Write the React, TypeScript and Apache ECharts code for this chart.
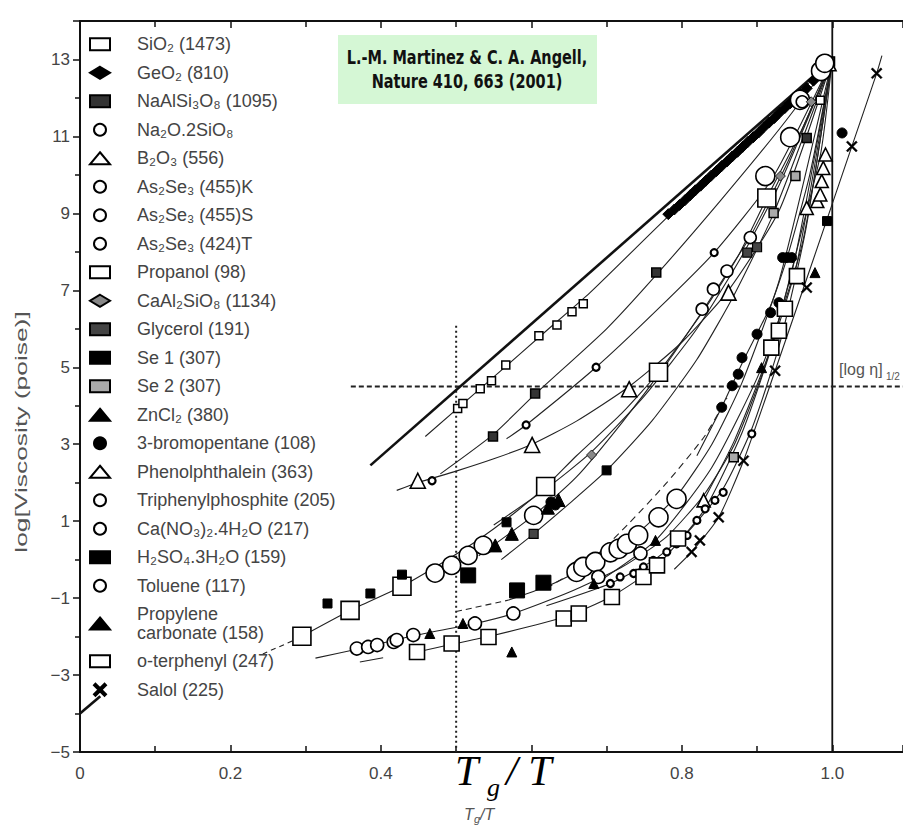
import React, { useEffect, useRef } from 'react';
import * as echarts from 'echarts';

const W = 903;
const H = 830;

// ---- legend names ----
const legendNames = [
  'SiO₂ (1473)', 'GeO₂ (810)', 'NaAlSi₃O₈ (1095)', 'Na₂O.2SiO₈', 'B₂O₃ (556)',
  'As₂Se₃ (455)K', 'As₂Se₃ (455)S', 'As₂Se₃ (424)T', 'Propanol (98)', 'CaAl₂SiO₈ (1134)',
  'Glycerol (191)', 'Se 1 (307)', 'Se 2 (307)', 'ZnCl₂ (380)', '3-bromopentane (108)',
  'Phenolphthalein (363)', 'Triphenylphosphite (205)', 'Ca(NO₃)₂.4H₂O (217)', 'H₂SO₄.3H₂O (159)',
  'Toluene (117)', 'Propylene\ncarbonate (158)', 'o-terphenyl (247)', 'Salol (225)',
];

// ---- measured points [Tg/T, log viscosity] ----
const siO2 = [[0.502,3.93],[0.509,4.06],[0.532,4.44],[0.547,4.65],[0.566,5.06],[0.610,5.82],[0.634,6.10],[0.654,6.44],[0.669,6.65],[0.984,11.94],[0.997,12.95]];
const geO2 = [[0.782,8.98],[0.79,9.1],[0.797,9.22],[0.804,9.34],[0.811,9.47],[0.818,9.6],[0.825,9.72],[0.832,9.85],[0.839,9.98],[0.846,10.1],[0.853,10.23],[0.86,10.35],[0.867,10.48],[0.874,10.6],[0.881,10.73],[0.888,10.86],[0.895,10.98],[0.902,11.1],[0.909,11.24],[0.916,11.36],[0.923,11.48],[0.93,11.62],[0.937,11.74],[0.944,11.86],[0.951,11.98],[0.958,12.1],[0.966,12.25],[0.975,12.45],[0.988,12.75]];
const naAlSi3O8 = [[0.549,3.20],[0.605,4.32],[0.766,7.46],[0.966,10.96],[0.997,12.95]];
const na2O2SiO2 = [[0.468,2.05],[0.593,3.50],[0.686,5.0],[0.843,7.98]];
const b2O3 = [[0.449,2.05],[0.601,2.98],[0.730,4.43],[0.862,6.94],[0.995,12.9]];
const as2Se3K = [[0.911,9.97],[0.944,10.98],[0.957,11.95],[0.985,12.7]];
const as2Se3S = [[0.827,6.51],[0.842,7.03],[0.860,7.50],[0.891,8.37],[0.96,11.9]];
const as2Se3T = [[0.472,-0.35],[0.494,-0.15],[0.516,0.11],[0.536,0.37],[0.603,1.15],[0.99,12.9]];
const propanol = [[0.295,-1.99],[0.359,-1.32],[0.428,-0.69],[0.619,1.9],[0.769,4.87],[0.913,9.40]];
const caAl2SiO8 = [[0.680,2.72],[0.931,9.97],[0.972,11.9]];
const glycerol = [[0.603,0.67],[0.887,7.98],[0.900,8.12]];
const se1 = [[0.329,-1.14],[0.386,-0.88],[0.428,-0.39],[0.567,0.97],[0.700,2.32],[0.993,8.80]];
const se2 = [[0.922,9.01],[0.951,9.97],[0.869,2.66]];
const znCl2 = [[0.552,0.37],[0.574,0.67],[0.622,1.35],[0.636,1.55]];
const bromopentane = [[0.853,3.96],[0.867,4.52],[0.875,4.82],[0.880,5.25],[0.900,5.86],[0.918,6.42],[0.929,6.68],[0.934,7.85],[0.940,7.85],[0.946,7.85],[1.013,11.09],[0.626,1.5],[0.632,1.42]];
const phenolphthalein = [[0.829,1.54],[0.966,9.14],[0.980,9.32],[0.984,9.49],[0.986,9.84],[0.988,10.18],[0.991,10.53]];
const triphenylphosphite = [[0.705,-0.62],[0.718,-0.45],[0.736,-0.36],[0.749,-0.19],[0.762,-0.02],[0.780,0.20],[0.793,0.41],[0.807,0.63],[0.820,1.02],[0.831,1.32],[0.844,1.54],[0.855,1.75],[0.893,3.27]];
const caNitrate = [[0.660,-0.32],[0.669,-0.19],[0.685,-0.06],[0.705,0.19],[0.716,0.28],[0.727,0.41],[0.742,0.63],[0.769,1.10],[0.793,1.58]];
const h2so4 = [[0.516,-0.41],[0.581,-0.80],[0.616,-0.60]];
const toluene = [[0.368,-2.31],[0.383,-2.27],[0.395,-2.22],[0.417,-2.14],[0.421,-2.09],[0.443,-1.96],[0.525,-1.66],[0.576,-1.40],[0.689,-0.45],[0.745,0.16]];
const propyleneCarb = [[0.465,-1.92],[0.509,-1.66],[0.574,-2.40],[0.683,-0.62],[0.765,0.50],[0.906,4.99],[0.977,7.46]];
const oTerphenyl = [[0.448,-2.40],[0.494,-2.18],[0.543,-2.01],[0.643,-1.53],[0.663,-1.40],[0.707,-0.97],[0.749,-0.45],[0.767,-0.15],[0.795,0.55],[0.919,5.51],[0.929,5.95],[0.937,6.52],[0.953,7.37]];
const salol = [[0.813,0.20],[0.824,0.50],[0.849,1.10],[0.882,2.57],[0.924,4.91],[0.966,7.07],[1.026,10.74],[1.059,12.64]];

// ---- fitted curves ----
const strongA = [[0, -4], [0.027, -3.55]];
const strongB = [[0.386, 2.45], [1.0, 13]];
const curveSiO2 = [[0.459,3.2],[0.55,4.75],[0.62,5.95],[0.678,6.94],[0.785,8.98],[0.9,11.05],[1.0,13]];
const curveNaAlSi = [[0.479,2.23],[0.549,3.25],[0.605,4.3],[0.70,6.0],[0.766,7.4],[0.85,9.3],[0.93,11.2],[1.0,13]];
const curveNa2O = [[0.567,3.14],[0.593,3.5],[0.686,5.0],[0.765,6.45],[0.843,7.98],[0.92,9.9],[1.0,13]];
const curveB2O3 = [[0.421,1.8],[0.449,2.0],[0.50,2.3],[0.55,2.62],[0.601,3.0],[0.66,3.6],[0.73,4.5],[0.80,5.65],[0.862,7.0],[0.93,9.1],[1.0,13]];
const curvePropDash = [[0.243,-2.45],[0.29,-2.05]];
const curveProp = [[0.295,-1.99],[0.359,-1.32],[0.428,-0.69],[0.48,-0.1],[0.532,0.55],[0.58,1.25],[0.619,1.9],[0.66,2.7],[0.72,3.8],[0.769,4.87],[0.83,6.5],[0.875,7.9],[0.913,9.4],[0.96,11.2],[1.0,13]];
const curveAsT = [[0.53,0.1],[0.603,1.15],[0.66,2.15],[0.72,3.55],[0.78,5.1],[0.827,6.45],[0.86,7.45],[0.891,8.4],[0.94,10.3],[1.0,13]];
const curveCaAl = [[0.55,0.9],[0.62,1.85],[0.68,2.8],[0.75,4.25],[0.82,6.0],[0.88,7.9],[0.931,9.8],[1.0,13]];
const curveSe = [[0.56,0.0],[0.603,0.67],[0.65,1.45],[0.70,2.32],[0.76,3.6],[0.82,5.2],[0.87,6.9],[0.922,9.0],[1.0,13]];
const curveCaDash = [[0.50,-1.35],[0.57,-1.05]];
const curveCa = [[0.57,-1.05],[0.62,-0.7],[0.66,-0.32],[0.705,0.19],[0.742,0.7],[0.793,1.65],[0.84,3.0],[0.88,4.6],[0.93,7.3],[1.0,13]];
const curveTol = [[0.313,-2.56],[0.368,-2.33],[0.443,-1.98],[0.525,-1.66],[0.576,-1.40],[0.65,-0.85],[0.72,-0.2],[0.78,0.6],[0.83,1.7],[0.87,3.0],[0.91,5.0],[0.95,7.8],[1.0,13]];
const curveTpp = [[0.62,-1.2],[0.705,-0.62],[0.762,-0.02],[0.807,0.7],[0.855,1.85],[0.893,3.4],[0.93,5.6],[0.965,8.6],[1.0,13]];
const curveOtpShort = [[0.372,-2.66],[0.403,-2.55]];
const curveOtp = [[0.448,-2.4],[0.494,-2.2],[0.543,-2.0],[0.643,-1.5],[0.707,-0.95],[0.767,-0.15],[0.83,1.3],[0.88,3.3],[0.919,5.5],[0.953,7.7],[1.0,13]];
const curveSalol = [[0.79,-0.25],[0.813,0.20],[0.849,1.10],[0.882,2.57],[0.924,4.91],[0.966,7.3],[1.026,10.74],[1.059,12.64],[1.066,13.1]];
const curveBromo = [[0.82,2.7],[0.853,3.96],[0.88,5.1],[0.918,6.6],[0.94,7.85],[0.97,10.0],[1.0,13]];
const curvePC = [[0.68,-0.7],[0.765,0.5],[0.84,2.4],[0.906,4.99],[0.96,8.2],[1.0,13]];
const curvePhen = [[0.829,1.54],[0.87,3.1],[0.92,5.6],[0.96,8.6],[0.985,10.6],[1.0,13]];
const curveDashed = [[0.62,-0.75],[0.68,0.0],[0.73,0.95],[0.78,2.0],[0.83,3.2],[0.86,4.2]];

// ---- reference lines ----
const tgLine = [[1.0, -5], [1.0, 14]];
const halfVertical = [[0.5, 6.08], [0.5, -5]];
const halfHorizontal = [[0.36, 4.5], [1.094, 4.5]];

const CROSS = 'path://M0,1.2L1.2,0L5,3.8L8.8,0L10,1.2L6.2,5L10,8.8L8.8,10L5,6.2L1.2,10L0,8.8L3.8,5Z';

function sc(name: string, data: number[][], symbol: string, size: number, fill: string, bw = 1.5) {
  return {
    type: 'scatter', name, data, symbol, symbolSize: size, z: 5,
    itemStyle: { color: fill, borderColor: '#000', borderWidth: bw, opacity: 1 },
  };
}
function ln(data: number[][], opts: any = {}) {
  return {
    type: 'line', data, symbol: 'none', showSymbol: false, silent: true, z: 2,
    smooth: opts.smooth === undefined ? 0.2 : opts.smooth,
    lineStyle: { color: opts.color || '#222', width: opts.width || 1.1, type: opts.type || 'solid' },
  };
}

export default function App() {
  const ref = useRef<HTMLDivElement>(null);
  useEffect(() => {
    const chart = echarts.init(ref.current!, null, { renderer: 'svg' });
    const axisCommon = {
      type: 'value', min: 0, max: 1.094, interval: 0.2,
      splitLine: { show: false },
      axisLine: { show: true, onZero: false, lineStyle: { color: '#111', width: 2 } },
      axisTick: { show: true, inside: true, length: 7, lineStyle: { color: '#111', width: 1.5 } },
      minorTick: { show: true, splitNumber: 2, length: 6, lineStyle: { color: '#111', width: 1.5 } },
    };
    const option: any = {
      animation: false,
      backgroundColor: '#fff',
      grid: { left: 80, top: 21, right: 0, bottom: 78 },
      xAxis: [
        {
          ...axisCommon, position: 'bottom',
          axisLabel: {
            color: '#444', fontSize: 17, fontFamily: 'Liberation Sans', margin: 13, showMaxLabel: false,
            formatter: (v: number) => {
              const r = Math.round(v * 10) / 10;
              if (r === 0) return '0';
              if (r === 0.6) return '';
              if (r > 1.0) return '';
              return r.toFixed(1);
            },
          },
        },
        { ...axisCommon, position: 'top', axisLabel: { show: false } },
      ],
      yAxis: {
        type: 'value', min: -5, max: 14, interval: 2,
        splitLine: { show: false },
        axisLine: { show: true, onZero: false, lineStyle: { color: '#111', width: 2 } },
        axisTick: { show: true, inside: false, length: 7, lineStyle: { color: '#111', width: 1.5 } },
        minorTick: { show: true, splitNumber: 2, length: 5, lineStyle: { color: '#111', width: 1.5 } },
        axisLabel: {
          color: '#444', fontSize: 17, fontFamily: 'Liberation Sans', margin: 10, showMaxLabel: false,
          formatter: (v: number) => (v > 13 ? '' : String(v).replace('-', '\u2212')),
        },
      },
      legend: {
        data: legendNames, orient: 'vertical', left: 84, top: 30,
        itemWidth: 20, itemHeight: 12, itemGap: 10, selectedMode: false,
        textStyle: { fontSize: 18, lineHeight: 18.5, color: '#444', fontFamily: 'Liberation Sans', padding: [0, 0, 0, 22] },
      },
      series: [
        // reference lines
        ln(tgLine, { smooth: false, color: '#111', width: 1.8 }),
        ln(halfVertical, { smooth: false, color: '#222', width: 2, type: [2, 3] }),
        ln(halfHorizontal, { smooth: false, color: '#222', width: 2, type: [5, 3] }),
        ln(strongA, { smooth: false, color: '#111', width: 2.6 }),
        ln(strongB, { smooth: false, color: '#111', width: 2.6 }),
        // curves
        ln(curveSiO2), ln(curveNaAlSi), ln(curveNa2O), ln(curveB2O3),
        ln(curvePropDash, { type: [5, 4] }), ln(curveProp), ln(curveAsT), ln(curveCaAl), ln(curveSe),
        ln(curveCaDash, { type: [6, 4] }), ln(curveCa), ln(curveTol), ln(curveTpp),
        ln(curveOtpShort), ln(curveOtp), ln(curveSalol), ln(curveBromo), ln(curvePC), ln(curvePhen),
        ln(curveDashed, { type: [7, 5] }),
        // points
        sc(legendNames[0], siO2, 'rect', 8, '#fff', 1.5),
        sc(legendNames[1], geO2, 'diamond', 11, '#000', 1),
        sc(legendNames[2], naAlSi3O8, 'rect', 9, '#333', 1.5),
        sc(legendNames[3], na2O2SiO2, 'circle', 7, '#fff', 2.2),
        sc(legendNames[4], b2O3, 'triangle', 15, '#fff', 1.6),
        sc(legendNames[5], as2Se3K, 'circle', 19, '#fff', 1.6),
        sc(legendNames[6], as2Se3S, 'circle', 12, '#fff', 1.6),
        sc(legendNames[7], as2Se3T, 'circle', 18, '#fff', 1.6),
        sc(legendNames[8], propanol, 'rect', 18, '#fff', 1.6),
        sc(legendNames[9], caAl2SiO8, 'diamond', 10, '#888', 0.8),
        sc(legendNames[10], glycerol, 'rect', 9, '#444', 1.2),
        sc(legendNames[11], se1, 'rect', 9, '#000', 1),
        sc(legendNames[12], se2, 'rect', 9, '#aaa', 1.5),
        sc(legendNames[13], znCl2, 'triangle', 13, '#000', 1),
        sc(legendNames[14], bromopentane, 'circle', 10, '#000', 1),
        sc(legendNames[15], phenolphthalein, 'triangle', 13, '#fff', 1.6),
        sc(legendNames[16], triphenylphosphite, 'circle', 7, '#fff', 2.2),
        sc(legendNames[17], caNitrate, 'circle', 19, '#fff', 1.6),
        sc(legendNames[18], h2so4, 'rect', 15, '#000', 1),
        sc(legendNames[19], toluene, 'circle', 13, '#fff', 1.6),
        sc(legendNames[20], propyleneCarb, 'triangle', 10, '#000', 1),
        sc(legendNames[21], oTerphenyl, 'rect', 15, '#fff', 1.6),
        sc(legendNames[22], salol, CROSS, 11, '#000', 0.5),
      ],
      graphic: [
        { type: 'rect', x: 338, y: 35, shape: { width: 259, height: 69 }, style: { fill: '#d5f7d5' }, z: 10 },
        {
          type: 'text', x: 467, y: 46, scaleY: 1.3, z: 11,
          style: { text: 'L.-M. Martinez & C. A. Angell,\nNature 410, 663 (2001)', font: 'bold 14.5px "DejaVu Sans"', fill: '#111', align: 'center', verticalAlign: 'top', lineHeight: 18 },
        },
        {
          type: 'text', x: 22, y: 432, rotation: Math.PI / 2, scaleX: 1.65, z: 11,
          style: { text: 'log[Viscosity (poise)]', font: '16px "Liberation Sans"', fill: '#555', align: 'center', verticalAlign: 'middle' },
        },
        { type: 'text', x: 839, y: 369, z: 11, style: { text: '[log η]', font: '16px "Liberation Sans"', fill: '#555', align: 'left', verticalAlign: 'middle' } },
        { type: 'text', x: 886, y: 376, z: 11, style: { text: '1/2', font: '10px "Liberation Sans"', fill: '#555', align: 'left', verticalAlign: 'middle' } },
        { type: 'text', x: 455, y: 771, z: 11, style: { text: 'T', font: 'italic 42px "Liberation Serif"', fill: '#000', align: 'left', verticalAlign: 'middle' } },
        { type: 'text', x: 487, y: 787, z: 11, style: { text: 'g', font: 'italic 26px "Liberation Serif"', fill: '#000', align: 'left', verticalAlign: 'middle' } },
        { type: 'text', x: 506, y: 771, z: 11, style: { text: '/ T', font: 'italic 42px "Liberation Serif"', fill: '#000', align: 'left', verticalAlign: 'middle' } },
        { type: 'text', x: 464, y: 814, z: 11, style: { text: 'T', font: 'italic 16px "Liberation Sans"', fill: '#555', align: 'left', verticalAlign: 'middle' } },
        { type: 'text', x: 474, y: 819, z: 11, style: { text: 'g', font: 'italic 11px "Liberation Sans"', fill: '#555', align: 'left', verticalAlign: 'middle' } },
        { type: 'text', x: 480, y: 814, z: 11, style: { text: '/T', font: 'italic 16px "Liberation Sans"', fill: '#555', align: 'left', verticalAlign: 'middle' } },
      ],
    };
    chart.setOption(option);
    return () => chart.dispose();
  }, []);
  return <div ref={ref} style={{ position: 'absolute', left: 0, top: 0, width: W, height: H }} />;
}
